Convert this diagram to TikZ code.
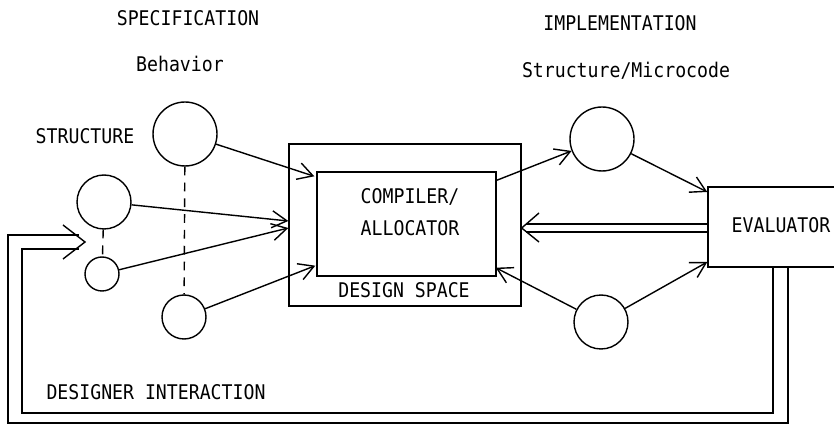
\documentclass[tikz,border=0pt]{standalone}
\usepackage{fontspec}
\newfontfamily\lpfont{DejaVu Sans Mono}[FakeStretch=0.9]
\usetikzlibrary{arrows.meta}

\begin{document}
\begin{tikzpicture}[x=0.02cm,y=-0.02cm,
        line width=0.8pt,
        arr/.style = {-{Straight Barb[length=3mm,width=3.4mm]}},
        txt/.style = {font=\lpfont\fontsize{11.5}{18}\selectfont,inner sep=0pt},
        bigNode/.style = {shape=circle,draw,inner sep=0pt,minimum size=1.28cm},
        midNode/.style = {shape=circle,draw,inner sep=0pt,minimum size=1.08cm},
        smallNode/.style = {shape=circle,draw,inner sep=0pt,minimum size=0.88cm},
        tinyNode/.style = {shape=circle,draw,inner sep=0pt,minimum size=0.68cm},
        boxNode/.style = {shape=rectangle,draw,inner sep=0pt},
        dashLine/.style = {dash pattern=on 5pt off 4pt}
        ]
        \clip (0,0) rectangle (834,428);

        % column headings
        \node[txt] (specHead) at (188,18) {SPECIFICATION};
        \node[txt] (behHead) at (180,64) {Behavior};
        \node[txt] (strHead) at (85,136) {STRUCTURE};
        \node[txt] (implHead) at (620,23) {IMPLEMENTATION};
        \node[txt] (microHead) at (626,71) {Structure/Microcode};

        % specification side
        \node[bigNode] (behTop) at (185,134) {};
        \node[smallNode] (behBot) at (184,317) {};
        \node[midNode] (strTop) at (104,202) {};
        \node[tinyNode] (strBot) at (102,274) {};
        \draw[dashLine] (behTop) -- (behBot);
        \draw[dashLine] (strTop) -- (strBot);

        % design space and compiler
        \node[boxNode,minimum width=4.64cm,minimum height=3.24cm] (space) at (405,225) {};
        \node[boxNode,minimum width=3.58cm,minimum height=2.08cm] (comp) at (406.5,224) {};
        \node[txt,align=center] (compText) at (410,212) {COMPILER/\\ALLOCATOR};
        \node[txt] (spaceText) at (404,290) {DESIGN SPACE};

        % implementation side
        \node[bigNode] (implTop) at (602,139) {};
        \node[midNode] (implBot) at (601,322) {};
        \node[boxNode,minimum width=3cm,minimum height=1.6cm] (eval) at (783,227) {};
        \node[txt] (evalText) at (781,225) {EVALUATOR};

        \draw[arr] (behTop) -- ([shift={(-2,5)}]comp.north west);
        \draw[arr] (strTop) -- (space.west |- 0,221);
        \draw[arr] (strBot) -- (space.west |- 0,228);
        \draw[arr] (behBot) -- ([shift={(-1,-11)}]comp.south west);
        \draw[arr] ([shift={(0,9)}]comp.north east) -- (implTop);
        \draw[arr] (implTop) -- (eval.west |- 0,192);
        \draw[arr] (implBot) -- ([shift={(-1,-9)}]comp.south east);
        \draw[arr] (implBot) -- (eval.west |- 0,262);

        % evaluator result back into the design space
        \coordinate (backTip) at (space.east |- 0,228);
        \draw (eval.west |- 0,224) -- (526,224);
        \draw (eval.west |- 0,232) -- (526,232);
        \draw (539,213) -- (backTip) -- (539,242);

        % designer interaction loop
        \coordinate (loopTip) at (85,242);
        \draw (eval.south -| 773,0) -- (773,413) -- (22,413) -- (22,249) -- (79,249);
        \draw (eval.south -| 788,0) -- (788,423) -- (8,423) -- (8,235) -- (79,235);
        \draw (63,225) -- (loopTip) -- (63,259);
        \node[txt] (loopText) at (156,392) {DESIGNER INTERACTION};
    \end{tikzpicture}
\end{document}
